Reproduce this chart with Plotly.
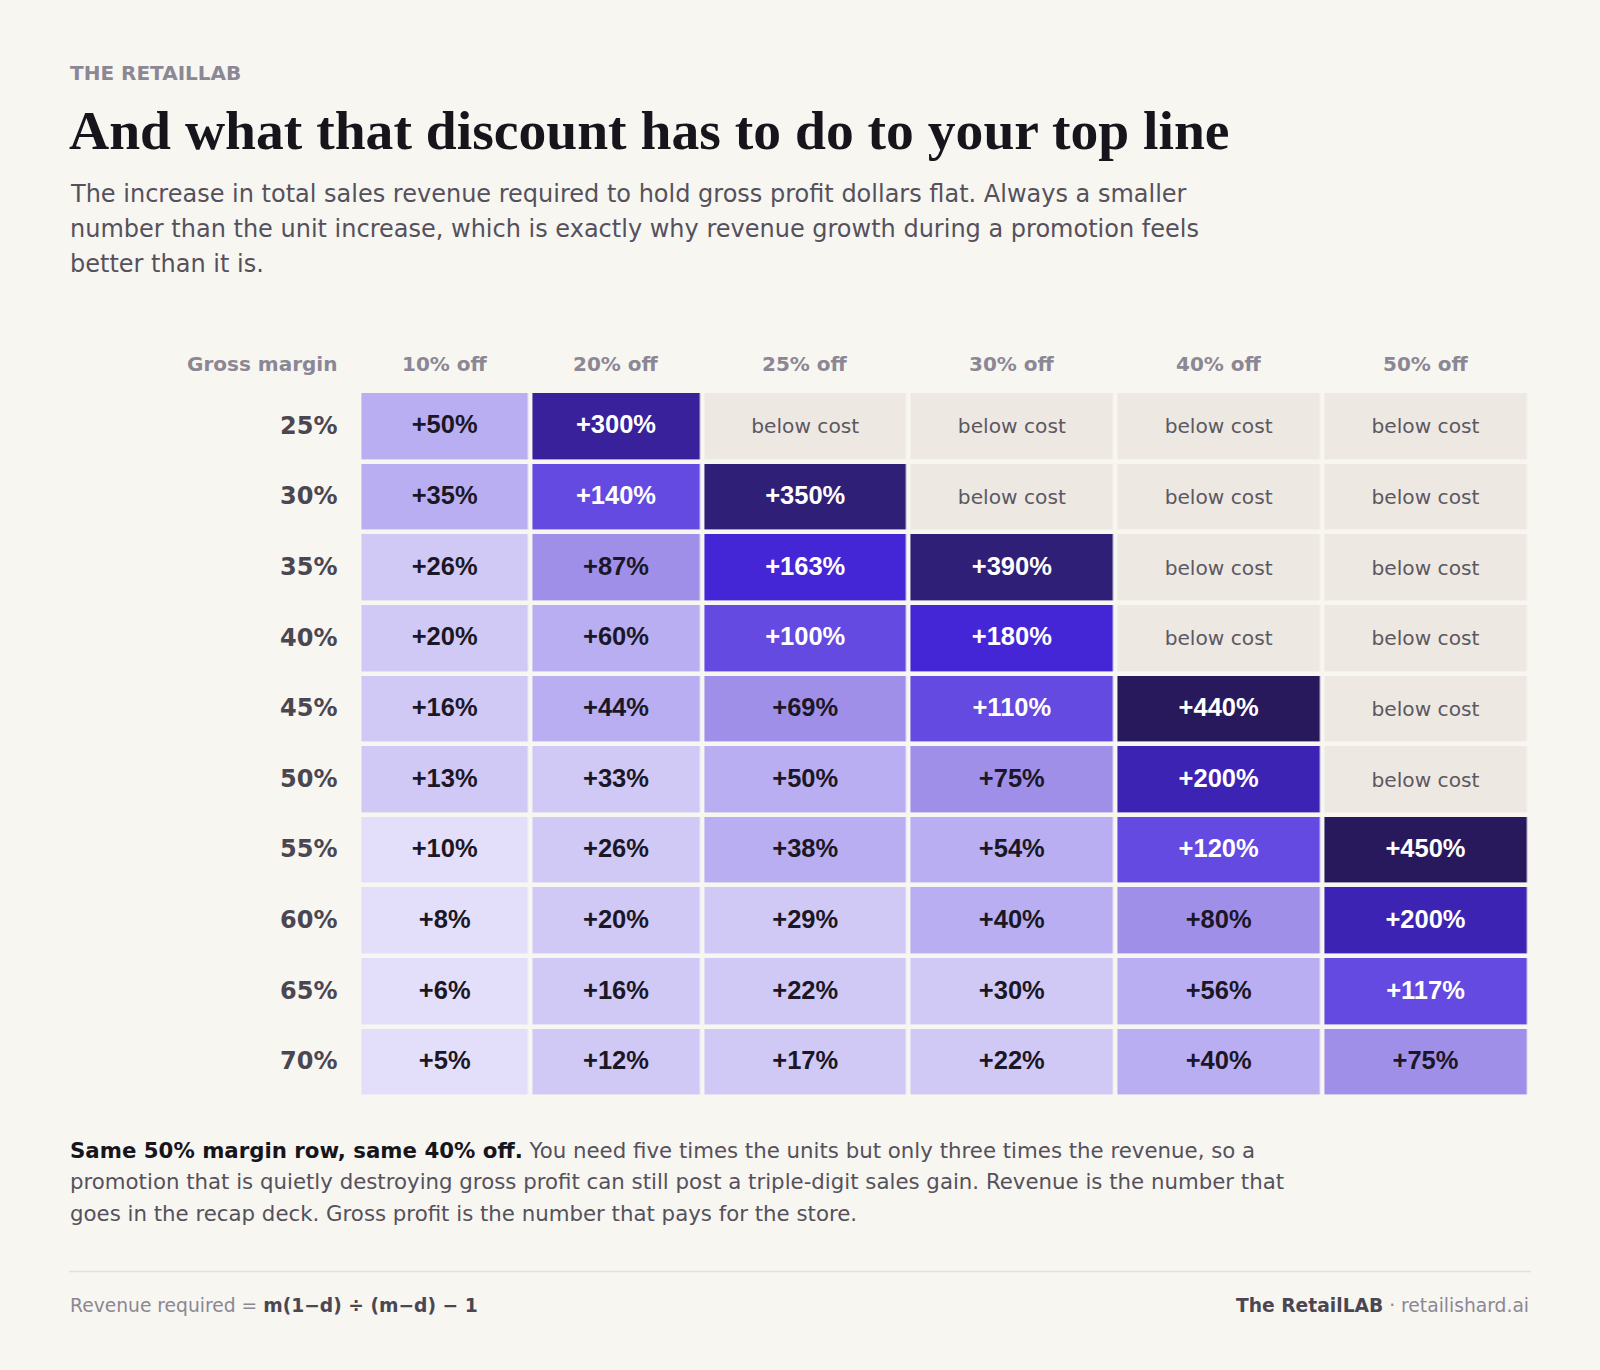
import plotly.graph_objects as go

# ---------------- data ----------------
margins = ["25%", "30%", "35%", "40%", "45%", "50%", "55%", "60%", "65%", "70%"]
discounts = ["10% off", "20% off", "25% off", "30% off", "40% off", "50% off"]
# revenue increase required (%) ; None = below cost
off_10 = [50, 35, 26, 20, 16, 13, 10, 8, 6, 5]
off_20 = [300, 140, 87, 60, 44, 33, 26, 20, 16, 12]
off_25 = [None, 350, 163, 100, 69, 50, 38, 29, 22, 17]
off_30 = [None, None, 390, 180, 110, 75, 54, 40, 30, 22]
off_40 = [None, None, None, None, 440, 200, 120, 80, 56, 40]
off_50 = [None, None, None, None, None, None, 450, 200, 117, 75]
columns = [off_10, off_20, off_25, off_30, off_40, off_50]

# ---------------- styling ----------------
W, H = 1600, 1370
BG = "#f8f6f1"
COL_WIDTHS = [170.6, 172.0, 206.5, 206.7, 206.9, 206.8]
GRID_LEFT, GRID_TOP, GRID_BOTTOM = 359.4, 391.0, 1097.4
GAP = 4.6

BIN_LIMITS = [10, 33, 60, 90, 150, 190, 250, 320, 400]
BIN_COLORS = ["#ede9e2", "#e3def9", "#d0c9f6", "#b8aef1", "#a08fe9", "#644ae0",
              "#4526d6", "#3d23b3", "#38219a", "#2f1f77", "#28195c"]


def bin_of(v):
    if v is None:
        return 0
    for k, lim in enumerate(BIN_LIMITS):
        if v <= lim:
            return k + 1
    return len(BIN_LIMITS) + 1


def py(p):
    return 1 - p / H


def px(p):
    return p / W


n_rows, n_cols = len(margins), len(discounts)
x_edges = [0.0]
for w in COL_WIDTHS:
    x_edges.append(x_edges[-1] + w)
x_centers = [(x_edges[i] + x_edges[i + 1]) / 2 for i in range(n_cols)]
y_edges = list(range(n_rows + 1))

z = [[bin_of(columns[c][r]) for c in range(n_cols)] for r in range(n_rows)]
nb = len(BIN_COLORS)
colorscale = []
for k, col in enumerate(BIN_COLORS):
    colorscale.append([k / nb, col])
    colorscale.append([(k + 1) / nb, col])

fig = go.Figure()
fig.add_trace(go.Heatmap(
    x=x_edges, y=y_edges, z=z, zmin=-0.5, zmax=nb - 0.5,
    colorscale=colorscale, showscale=False, xgap=GAP, ygap=GAP,
    hoverinfo="skip",
))

# numbers
nx, ny, nt, nc = [], [], [], []
bx, by = [], []
for c in range(n_cols):
    for r in range(n_rows):
        v = columns[c][r]
        if v is None:
            bx.append(x_centers[c]); by.append(r + 0.53)
        else:
            nx.append(x_centers[c]); ny.append(r + 0.51)
            nt.append(f"<b>+{v}%</b>")
            nc.append("#ffffff" if v >= 100 else "#1b1726")

fig.add_trace(go.Scatter(
    x=nx, y=ny, text=nt, mode="text", hoverinfo="skip", showlegend=False,
    textfont=dict(family="Liberation Sans", size=25.5, color=nc),
))
fig.add_trace(go.Scatter(
    x=bx, y=by, text=["below cost"] * len(bx), mode="text",
    hoverinfo="skip", showlegend=False,
    textfont=dict(family="DejaVu Sans", size=20.2, color="#5c5862"),
))

x_dom = [px(GRID_LEFT), px(GRID_LEFT + x_edges[-1])]
y_dom = [py(GRID_BOTTOM), py(GRID_TOP)]
fig.update_xaxes(domain=x_dom, range=[0, x_edges[-1]], visible=False, fixedrange=True)
fig.update_yaxes(domain=y_dom, range=[n_rows, 0], visible=False, fixedrange=True)

ann = []
# row labels
for r, m in enumerate(margins):
    ann.append(dict(x=px(339), xref="paper", xanchor="right", y=r + 0.49, yref="y",
                    yanchor="middle", text=f"<b>{m}</b>", showarrow=False,
                    font=dict(family="DejaVu Sans", size=24, color="#4b4752")))
# column headers
HDR_Y = 363.5
for c, d in enumerate(discounts):
    ann.append(dict(x=x_centers[c], xref="x", xanchor="center", y=py(HDR_Y), yref="paper",
                    yanchor="middle", text=f"<b>{d}</b>", showarrow=False,
                    font=dict(family="DejaVu Sans", size=20, color="#8b8794")))
ann.append(dict(x=px(339), xref="paper", xanchor="right", y=py(HDR_Y), yref="paper",
                yanchor="middle", text="<b>Gross margin</b>", showarrow=False,
                font=dict(family="DejaVu Sans", size=20, color="#8b8794")))

LEFT = px(67.5)
# eyebrow
ann.append(dict(x=LEFT, xref="paper", xanchor="left", y=py(73.5), yref="paper",
                yanchor="middle", text="<b>THE RETAILLAB</b>", showarrow=False,
                font=dict(family="DejaVu Sans", size=20, color="#8b8794")))
# title
ann.append(dict(x=px(67), xref="paper", xanchor="left", y=py(130), yref="paper",
                yanchor="middle", text="<b>And what that discount has to do to your top line</b>",
                showarrow=False,
                font=dict(family="Liberation Serif", size=55.6, color="#17151c")))
# subtitle
sub_lines = [
    "The increase in total sales revenue required to hold gross profit dollars flat. Always a smaller",
    "number than the unit increase, which is exactly why revenue growth during a promotion feels",
    "better than it is.",
]
for i, t in enumerate(sub_lines):
    ann.append(dict(x=LEFT, xref="paper", xanchor="left", y=py(194 + i * 35.2), yref="paper",
                    yanchor="middle", text=t, showarrow=False,
                    font=dict(family="DejaVu Sans", size=24, color="#55515c")))
# footnote
foot_lines = [
    "<span style='color:#17151c'><b>Same 50% margin row, same 40% off.</b></span> You need five times the units but only three times the revenue, so a",
    "promotion that is quietly destroying gross profit can still post a triple-digit sales gain. Revenue is the number that",
    "goes in the recap deck. Gross profit is the number that pays for the store.",
]
for i, t in enumerate(foot_lines):
    ann.append(dict(x=LEFT, xref="paper", xanchor="left", y=py(1150 + i * 31.6), yref="paper",
                    yanchor="middle", text=t, showarrow=False,
                    font=dict(family="DejaVu Sans", size=21.3, color="#55515c")))
# footer
ann.append(dict(x=LEFT, xref="paper", xanchor="left", y=py(1305), yref="paper",
                yanchor="middle",
                text="Revenue required = <span style='color:#4b4752'><b>m(1−d) ÷ (m−d) − 1</b></span>",
                showarrow=False, font=dict(family="DejaVu Sans", size=18.7, color="#8b8794")))
ann.append(dict(x=px(1531), xref="paper", xanchor="right", y=py(1305), yref="paper",
                yanchor="middle",
                text="<span style='color:#4b4752'><b>The RetailLAB</b></span> · retailishard.ai",
                showarrow=False, font=dict(family="DejaVu Sans", size=18.7, color="#8b8794")))

fig.update_layout(
    width=W, height=H, margin=dict(l=0, r=0, t=0, b=0),
    paper_bgcolor=BG, plot_bgcolor=BG, showlegend=False,
    annotations=ann,
    shapes=[dict(type="line", xref="paper", yref="paper", x0=px(69), x1=px(1531),
                 y0=py(1271.5), y1=py(1271.5), line=dict(color="#e3e0d9", width=1.5))],
)

fig.write_html(
    "out.html",
    config={"displayModeBar": False},
    post_script="document.body.style.margin='0';document.body.style.background='" + BG + "';",
)
